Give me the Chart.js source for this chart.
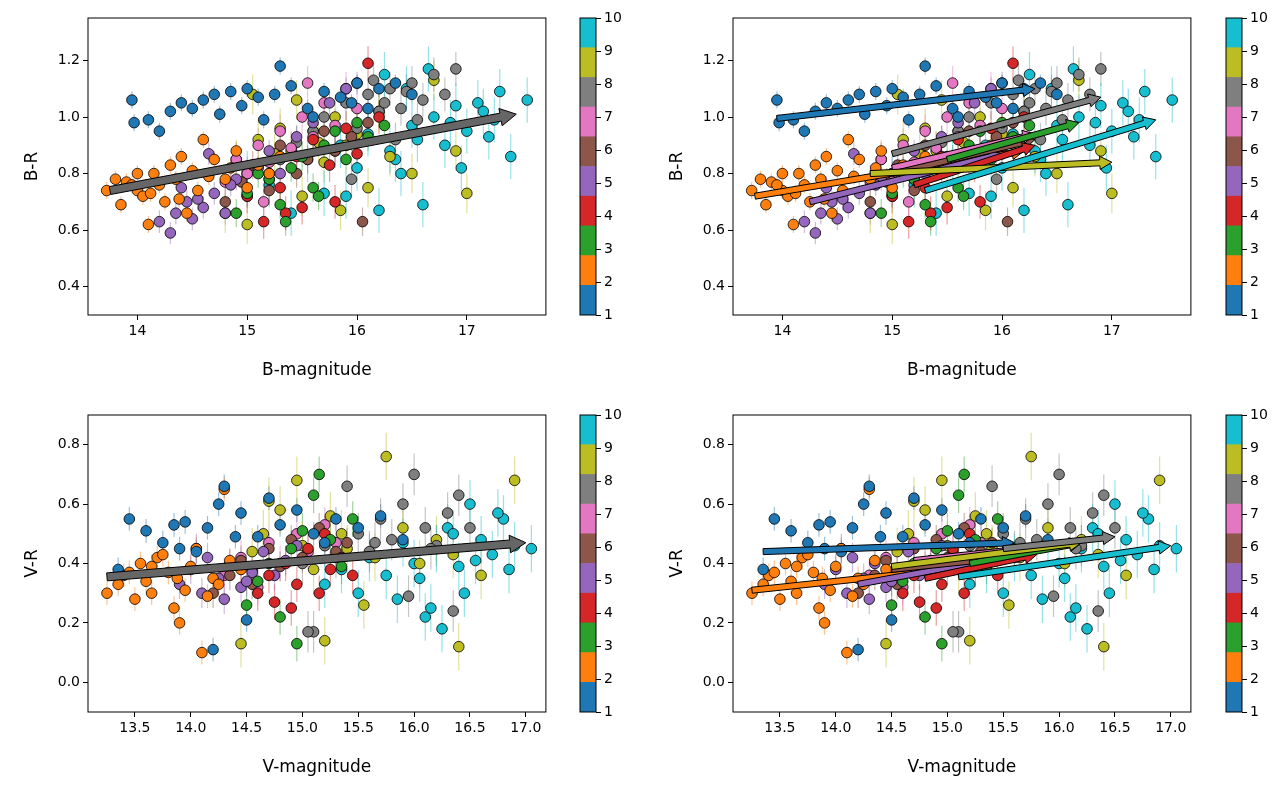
<!DOCTYPE html>
<html>
<head>
<meta charset="utf-8">
<script src="https://cdn.jsdelivr.net/npm/chart.js@4.4.0/dist/chart.umd.min.js"></script>
<style>
  body { margin: 0; background: #fff; width: 1288px; height: 793px; position: relative; overflow: hidden; }
  .box { position: absolute; }
</style>
</head>
<body>
<div class="box" style="left:0;top:0;width:552px;height:385px"><canvas id="p1"></canvas></div>
<div class="box" style="left:565px;top:0;width:60px;height:385px"><canvas id="c1"></canvas></div>
<div class="box" style="left:645px;top:0;width:552px;height:385px"><canvas id="p2"></canvas></div>
<div class="box" style="left:1211px;top:0;width:60px;height:385px"><canvas id="c2"></canvas></div>
<div class="box" style="left:0;top:397px;width:552px;height:385px"><canvas id="p3"></canvas></div>
<div class="box" style="left:565px;top:397px;width:60px;height:385px"><canvas id="c3"></canvas></div>
<div class="box" style="left:645px;top:397px;width:552px;height:385px"><canvas id="p4"></canvas></div>
<div class="box" style="left:1211px;top:397px;width:60px;height:385px"><canvas id="c4"></canvas></div>
<script>
// tab10 colours, one per group 1..10
const colors = ['#1f77b4','#ff7f0e','#2ca02c','#d62728','#9467bd','#8c564b','#e377c2','#7f7f7f','#bcbd22','#17becf'];
const groups = [1,2,3,4,5,6,7,8,9,10];

// === B-magnitude vs B-R ===
const bX = [
  [13.95,13.97,14.1,14.3,14.4,14.5,14.6,14.7,14.85,14.95,15.0,15.1,15.25,15.3,15.4,15.55,15.7,15.85,16.0,16.2,16.35,16.5,14.2,15.6,14.75,15.15,15.95,16.1],
  [13.72,13.8,13.85,13.9,14.0,14.05,14.1,14.15,14.2,14.3,14.35,14.4,14.5,14.55,14.6,14.7,14.8,14.9,15.0,15.1,15.2,15.3,14.25,13.95,14.45,14.65,14.85,14.12,14.38,14.0],
  [14.9,15.0,15.1,15.2,15.3,15.4,15.5,15.6,15.7,15.8,15.9,16.0,16.1,16.25,15.35,15.65],
  [15.0,15.15,15.2,15.3,15.45,15.5,15.6,15.75,15.8,15.9,16.0,16.1,16.2,15.35],
  [14.2,14.3,14.35,14.45,14.5,14.6,14.7,14.8,14.9,15.0,15.1,15.2,15.3,15.45,15.6,15.75,15.9,16.0,14.4,14.65,14.55,14.85],
  [14.8,14.95,15.05,15.2,15.3,15.45,15.55,15.7,15.8,15.95,16.05,16.1],
  [14.8,14.9,15.0,15.1,15.2,15.3,15.4,15.5,15.6,15.7,15.8,15.9,16.0,15.15,15.55],
  [15.3,15.45,15.6,15.7,15.8,15.9,16.0,16.1,16.2,16.3,16.4,16.5,16.6,16.7,16.8,16.9,15.95,16.35,16.55,16.15,16.25,16.45],
  [14.8,14.9,15.0,15.1,15.2,15.3,15.4,15.5,15.6,15.7,15.8,15.9,16.0,16.1,16.2,16.3,16.5,16.7,16.9,17.0,15.05,15.45,15.85,15.25,15.65],
  [15.0,15.2,15.4,15.55,15.7,15.85,16.0,16.1,16.2,16.3,16.4,16.5,16.6,16.7,16.8,16.9,17.0,17.1,17.2,17.3,17.4,17.55,16.65,16.25,16.95,17.25,15.9,16.45,16.55,16.85,17.15,16.35]
];
const bY = [
  [1.06,0.98,0.99,1.02,1.05,1.03,1.06,1.08,1.09,1.04,1.10,1.07,1.08,1.18,1.11,1.03,1.09,1.07,1.12,1.10,1.12,1.08,0.95,1.00,1.01,0.99,1.05,1.03],
  [0.74,0.78,0.69,0.77,0.74,0.72,0.62,0.80,0.76,0.83,0.78,0.86,0.81,0.74,0.92,0.85,0.78,0.88,0.75,0.83,0.80,0.86,0.70,0.76,0.66,0.79,0.82,0.73,0.71,0.80],
  [0.66,0.73,0.80,0.78,0.69,0.82,0.86,0.75,0.90,0.95,0.85,0.98,0.93,0.97,0.63,0.72],
  [0.72,0.63,0.80,0.75,0.86,0.68,0.92,0.83,0.70,0.96,0.87,1.19,1.00,0.66],
  [0.63,0.59,0.66,0.70,0.64,0.68,0.73,0.66,0.78,0.72,0.82,0.88,0.80,0.93,0.98,1.05,1.10,1.12,0.75,0.87,0.71,0.76],
  [0.70,0.77,0.83,0.74,0.90,0.80,0.85,0.95,0.88,0.93,0.63,0.98],
  [0.77,0.85,0.80,0.90,0.84,0.95,0.89,1.00,0.93,1.05,0.97,1.10,1.03,0.70,1.12],
  [0.85,0.91,0.95,1.00,0.88,1.05,0.96,1.08,1.02,1.10,1.03,1.12,1.06,1.15,1.08,1.17,0.78,0.92,0.99,1.13,1.05,1.09],
  [0.66,0.85,0.62,0.92,0.78,0.96,0.88,0.72,0.95,0.84,1.00,0.90,0.94,0.75,1.02,0.86,0.80,1.13,0.88,0.73,1.08,1.06,0.67,0.87,0.91],
  [0.80,0.76,0.66,0.85,0.73,0.90,0.82,0.94,0.67,0.88,0.80,0.97,0.69,1.00,0.90,1.04,0.95,1.05,0.93,1.09,0.86,1.06,1.17,1.15,0.82,0.99,0.72,1.10,0.92,0.98,1.02,0.85]
];
const bErr = [0.03,0.03,0.05,0.06,0.04,0.05,0.06,0.06,0.07,0.08];

// === V-magnitude vs V-R ===
const vX = [
  [13.35,13.45,13.6,13.75,13.85,13.95,14.05,14.15,14.25,14.3,14.45,14.6,14.7,14.8,14.95,15.1,15.3,15.5,15.7,15.9,14.2,14.5,13.9,14.4,15.2],
  [13.25,13.35,13.4,13.5,13.55,13.6,13.65,13.7,13.8,13.85,13.9,14.0,14.05,14.1,14.2,14.3,14.35,14.45,13.95,14.15,13.75,13.45,13.65,14.25,13.88],
  [14.5,14.6,14.7,14.8,14.9,15.0,15.1,15.15,15.25,15.35,15.45,14.95],
  [14.6,14.7,14.75,14.85,14.95,15.05,15.15,15.25,15.35,15.45,14.9,15.2],
  [13.9,14.0,14.1,14.15,14.25,14.35,14.45,14.55,14.65,14.75,14.85,14.95,14.3,14.05,14.5],
  [14.2,14.35,14.45,14.55,14.7,14.8,14.9,15.0,15.15,15.3,15.4],
  [14.3,14.45,14.55,14.7,14.8,14.95,15.05,15.2,15.3,14.6],
  [15.0,15.1,15.2,15.3,15.4,15.5,15.6,15.7,15.8,15.9,16.0,16.1,16.2,16.3,16.4,16.5,15.05,15.95,16.35,15.65,16.15],
  [14.45,14.55,14.65,14.8,14.95,15.1,15.25,15.4,15.55,15.75,15.9,16.05,16.2,16.35,16.6,16.9,14.7,15.2,16.4,15.0,15.65,15.35],
  [15.2,15.35,15.5,15.6,15.75,15.9,16.0,16.1,16.2,16.3,16.4,16.5,16.6,16.7,16.8,16.9,17.05,16.15,16.45,16.75,16.25,15.85,16.55,16.05,16.35,16.85]
];
const vY = [
  [0.38,0.55,0.51,0.47,0.53,0.54,0.44,0.52,0.60,0.66,0.57,0.49,0.62,0.53,0.58,0.50,0.55,0.52,0.56,0.48,0.11,0.21,0.45,0.49,0.47],
  [0.30,0.33,0.36,0.28,0.40,0.34,0.30,0.42,0.37,0.25,0.20,0.39,0.45,0.10,0.35,0.65,0.41,0.38,0.31,0.29,0.43,0.37,0.39,0.33,0.35],
  [0.26,0.34,0.40,0.22,0.45,0.51,0.63,0.70,0.48,0.39,0.55,0.13],
  [0.30,0.36,0.27,0.40,0.33,0.45,0.30,0.38,0.42,0.36,0.25,0.50],
  [0.33,0.38,0.30,0.42,0.35,0.40,0.32,0.37,0.44,0.36,0.41,0.46,0.28,0.45,0.34],
  [0.30,0.36,0.41,0.33,0.45,0.39,0.48,0.42,0.52,0.44,0.47],
  [0.36,0.42,0.38,0.47,0.40,0.50,0.44,0.53,0.47,0.32],
  [0.40,0.17,0.46,0.42,0.66,0.50,0.44,0.55,0.48,0.60,0.70,0.52,0.46,0.57,0.63,0.52,0.17,0.29,0.24,0.47,0.45],
  [0.13,0.44,0.50,0.58,0.68,0.38,0.56,0.45,0.26,0.76,0.52,0.40,0.48,0.43,0.36,0.68,0.61,0.14,0.12,0.46,0.42,0.50],
  [0.33,0.38,0.30,0.42,0.36,0.47,0.40,0.22,0.45,0.52,0.39,0.60,0.48,0.43,0.55,0.46,0.45,0.25,0.30,0.57,0.18,0.28,0.41,0.35,0.50,0.38]
];
const vErr = [0.04,0.04,0.06,0.06,0.05,0.05,0.06,0.07,0.08,0.08];

// arrows: [x0, y0, x1, y1, group]
const bArrowAll = [[13.75,0.74,17.45,1.01,8]];
const bArrows = [
  [13.95,0.995,16.3,1.10,1],[13.75,0.72,16.2,0.88,2],[14.25,0.70,16.0,0.87,5],
  [15.0,0.80,16.3,0.92,6],[15.0,0.82,16.3,0.94,7],[15.2,0.76,16.3,0.90,4],
  [15.5,0.85,16.7,0.98,3],[15.0,0.87,16.9,1.07,8],[14.8,0.80,17.0,0.84,9],[15.3,0.74,17.4,0.99,10]
];
const vArrowAll = [[13.25,0.355,17.0,0.47,8]];
const vArrows = [
  [13.35,0.44,15.6,0.47,1],[13.25,0.31,15.0,0.38,2],[14.2,0.33,15.5,0.42,5],
  [14.5,0.38,15.5,0.42,6],[14.7,0.41,15.7,0.45,7],[14.8,0.35,15.8,0.43,4],
  [15.2,0.40,16.2,0.47,3],[14.5,0.39,16.2,0.47,9],[15.5,0.45,16.5,0.49,8],[15.1,0.355,17.0,0.46,10]
];

const FONT = 'DejaVu Sans';
Chart.defaults.font.family = FONT;
Chart.defaults.color = '#000';

function hexA(h, a) {
  const n = parseInt(h.slice(1), 16);
  return `rgba(${n >> 16},${(n >> 8) & 255},${n & 255},${a})`;
}

function makePanel(id, xs, ys, errs, arrows, shaft, arrowFill, xr, yr, xlabel, ylabel) {
  const datasets = groups.map((g, i) => ({
    data: xs[i].map((x, j) => ({ x: x, y: ys[i][j] })),
    pointRadius: 5.3, pointBackgroundColor: colors[i],
    pointBorderColor: '#000', pointBorderWidth: 0.8
  }));
  const extras = {
    id: 'extras',
    beforeDatasetsDraw(chart) {
      const c = chart.ctx, sx = chart.scales.x, sy = chart.scales.y;
      c.save();
      c.lineWidth = 1.2;
      groups.forEach((g, i) => {
        c.strokeStyle = hexA(colors[i], 0.45);
        xs[i].forEach((x, j) => {
          const px = sx.getPixelForValue(x);
          c.beginPath();
          c.moveTo(px, sy.getPixelForValue(ys[i][j] - errs[i]));
          c.lineTo(px, sy.getPixelForValue(ys[i][j] + errs[i]));
          c.stroke();
        });
      });
      c.restore();
    },
    afterDatasetsDraw(chart) {
      const c = chart.ctx, sx = chart.scales.x, sy = chart.scales.y, a = chart.chartArea;
      c.save();
      arrows.forEach(ar => {
        const x0 = sx.getPixelForValue(ar[0]), y0 = sy.getPixelForValue(ar[1]);
        const x1 = sx.getPixelForValue(ar[2]), y1 = sy.getPixelForValue(ar[3]);
        const L = Math.hypot(x1 - x0, y1 - y0), ux = (x1 - x0) / L, uy = (y1 - y0) / L;
        const nx = -uy, ny = ux, hl = shaft * 2, hw = shaft * 1.1, w = shaft / 2;
        const bx = x1 - ux * hl, by = y1 - uy * hl;
        c.beginPath();
        c.moveTo(x0 + nx * w, y0 + ny * w);
        c.lineTo(bx + nx * w, by + ny * w);
        c.lineTo(bx + nx * hw, by + ny * hw);
        c.lineTo(x1, y1);
        c.lineTo(bx - nx * hw, by - ny * hw);
        c.lineTo(bx - nx * w, by - ny * w);
        c.lineTo(x0 - nx * w, y0 - ny * w);
        c.closePath();
        c.fillStyle = arrowFill || colors[ar[4] - 1];
        c.fill();
        c.strokeStyle = '#000'; c.lineWidth = 1; c.stroke();
      });
      c.strokeStyle = '#000'; c.lineWidth = 1;
      c.strokeRect(a.left, a.top, a.right - a.left, a.bottom - a.top);
      c.restore();
    }
  };
  const axis = (r, title, fitKey, fitVal, pad) => ({
    type: 'linear', min: r[0], max: r[1],
    grid: { display: true, drawOnChartArea: false, tickLength: 5, color: '#000' },
    border: { display: false },
    ticks: { font: { size: 14 }, color: '#000',
      callback: v => r[3] ? v.toFixed(1) : String(v) },
    afterBuildTicks(s) { s.ticks = r[5].map(v => ({ value: v })); },
    title: { display: true, text: title, font: { size: 17 }, color: '#000', padding: pad },
    afterFit(s) { s[fitKey] = fitVal; }
  });
  new Chart(document.getElementById(id), {
    type: 'scatter',
    data: { datasets },
    plugins: [extras],
    options: {
      responsive: true, maintainAspectRatio: false, animation: false,
      layout: { padding: { top: 18, right: 4, left: 18, bottom: 0 } },
      plugins: { legend: { display: false }, tooltip: { enabled: false } },
      scales: {
        x: axis(xr, xlabel, 'height', 70, { top: 6 }),
        y: axis(yr, ylabel, 'width', 70, { bottom: 2 })
      }
    }
  });
}

function makeBar(id) {
  const segs = groups.map((g, i) => [1 + i * 0.9, 1 + (i + 1) * 0.9]);
  new Chart(document.getElementById(id), {
    type: 'bar',
    data: { labels: [''], datasets: segs.map((s, i) => ({ data: [s], backgroundColor: colors[i],
      categoryPercentage: 1, barPercentage: 1, grouped: false })) },
    plugins: [{ id: 'frame', afterDatasetsDraw(chart) {
      const c = chart.ctx, a = chart.chartArea;
      c.save(); c.strokeStyle = '#000'; c.lineWidth = 1;
      c.strokeRect(a.left, a.top, a.right - a.left, a.bottom - a.top); c.restore();
    } }],
    options: {
      responsive: true, maintainAspectRatio: false, animation: false,
      layout: { padding: { top: 18, left: 15, bottom: 70, right: 0 } },
      plugins: { legend: { display: false }, tooltip: { enabled: false } },
      scales: {
        x: { display: false },
        y: { position: 'right', min: 1, max: 10, border: { display: false },
          grid: { display: true, drawOnChartArea: false, tickLength: 5, color: '#000' },
          ticks: { stepSize: 1, font: { size: 14 }, color: '#000' },
          afterFit(s) { s.width = 29; } }
      }
    }
  });
}

const bXT = [14, 15, 16, 17], bYT = [0.4, 0.6, 0.8, 1.0, 1.2];
const vXT = [13.5, 14.0, 14.5, 15.0, 15.5, 16.0, 16.5, 17.0], vYT = [0.0, 0.2, 0.4, 0.6, 0.8];

makePanel('p1', bX, bY, bErr, bArrowAll, 8, '#666666', [13.55, 17.72, 1, false, false, bXT], [0.3, 1.35, 0.2, true, true, bYT], 'B-magnitude', 'B-R');
makePanel('p2', bX, bY, bErr, bArrows, 6, null, [13.55, 17.72, 1, false, false, bXT], [0.3, 1.35, 0.2, true, true, bYT], 'B-magnitude', 'B-R');
makePanel('p3', vX, vY, vErr, vArrowAll, 8, '#666666', [13.08, 17.18, 0.5, true, true, vXT], [-0.1, 0.9, 0.2, true, true, vYT], 'V-magnitude', 'V-R');
makePanel('p4', vX, vY, vErr, vArrows, 6, null, [13.08, 17.18, 0.5, true, true, vXT], [-0.1, 0.9, 0.2, true, true, vYT], 'V-magnitude', 'V-R');
['c1', 'c2', 'c3', 'c4'].forEach(makeBar);
</script>
</body>
</html>
